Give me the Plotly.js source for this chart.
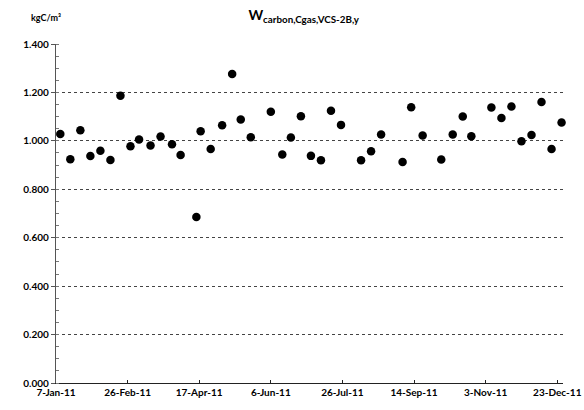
<!DOCTYPE html>
<html>
<head>
<meta charset="utf-8">
<script src="https://cdn.plot.ly/plotly-3.0.1.min.js"></script>
<style>
html,body{margin:0;padding:0;background:#fff;}
#chart{width:584px;height:410px;}
</style>
</head>
<body>
<div id="chart"></div>
<script>
var dates = [
  '2011-01-10','2011-01-17','2011-01-24','2011-01-31','2011-02-07','2011-02-14','2011-02-21','2011-02-28',
  '2011-03-06','2011-03-14','2011-03-21','2011-03-29','2011-04-04','2011-04-15','2011-04-18','2011-04-25',
  '2011-05-03','2011-05-10','2011-05-16','2011-05-23','2011-06-06','2011-06-14','2011-06-20','2011-06-27',
  '2011-07-04','2011-07-11','2011-07-18','2011-07-25','2011-08-08','2011-08-15','2011-08-22','2011-09-06',
  '2011-09-12','2011-09-20','2011-10-03','2011-10-11','2011-10-18','2011-10-24','2011-11-07','2011-11-14',
  '2011-11-21','2011-11-28','2011-12-05','2011-12-12','2011-12-19','2011-12-26'
];
var values = [
  1.028,0.924,1.044,0.937,0.959,0.921,1.186,0.978,
  1.006,0.981,1.018,0.986,0.942,0.686,1.040,0.966,
  1.064,1.276,1.088,1.015,1.120,0.944,1.014,1.102,
  0.938,0.920,1.124,1.066,0.920,0.957,1.026,0.913,
  1.139,1.022,0.923,1.026,1.101,1.019,1.138,1.094,
  1.142,0.998,1.024,1.160,0.966,1.076
];
var xTickVals = ['2011-01-07','2011-02-26','2011-04-17','2011-06-06','2011-07-26','2011-09-14','2011-11-03','2011-12-23'];
var xTickText = ['7-Jan-11','26-Feb-11','17-Apr-11','6-Jun-11','26-Jul-11','14-Sep-11','3-Nov-11','23-Dec-11'];
var yTickVals = [0,0.2,0.4,0.6,0.8,1.0,1.2,1.4];
var yTickText = ['0.000','0.200','0.400','0.600','0.800','1.000','1.200','1.400'];

var trace = {
  x: dates, y: values, type: 'scatter', mode: 'markers',
  marker: {color: '#000', size: 8.5},
  cliponaxis: false, hoverinfo: 'x+y'
};
var fam = 'Lato, "Open Sans", sans-serif';
var layout = {
  width: 584, height: 410,
  margin: {l: 56, r: 21, t: 44, b: 27},
  paper_bgcolor: '#fff', plot_bgcolor: '#fff',
  showlegend: false,
  font: {family: fam, size: 10, color: '#000'},
  title: {
    text: '<b>W<sub>carbon,Cgas,VCS-2B,y</sub></b>',
    font: {family: fam, size: 14, color: '#000'},
    x: 0.52, xanchor: 'center', y: 0.975, yanchor: 'top'
  },
  xaxis: {
    type: 'date',
    range: ['2011-01-07','2011-12-27'],
    tickvals: xTickVals, ticktext: xTickText,
    showgrid: false, zeroline: false,
    showline: true, linecolor: '#222', linewidth: 1.2,
    ticks: 'inside', ticklen: 3, tickcolor: '#222',
    tickfont: {family: fam, size: 10, color: '#000', weight: 'bold'}
  },
  yaxis: {
    range: [0, 1.4],
    tickvals: yTickVals, ticktext: yTickText,
    showgrid: true, gridcolor: '#444', griddash: 'dot', gridwidth: 1,
    zeroline: false,
    showline: true, linecolor: '#555', linewidth: 1.2,
    ticks: 'outside', ticklen: 4, tickcolor: '#555',
    minor: {dtick: 0.05, ticks: 'inside', ticklen: 3, tickcolor: '#777', showgrid: false},
    tickfont: {family: fam, size: 10, color: '#000', weight: 'bold'}
  },
  annotations: [{
    xref: 'paper', yref: 'paper', x: -0.02, y: 1.055, xanchor: 'center', yanchor: 'bottom',
    text: '<b>kgC/m³</b>', showarrow: false,
    font: {family: fam, size: 9, color: '#000'}
  }]
};
Plotly.newPlot('chart', [trace], layout, {displayModeBar: false, staticPlot: true});
</script>
</body>
</html>
